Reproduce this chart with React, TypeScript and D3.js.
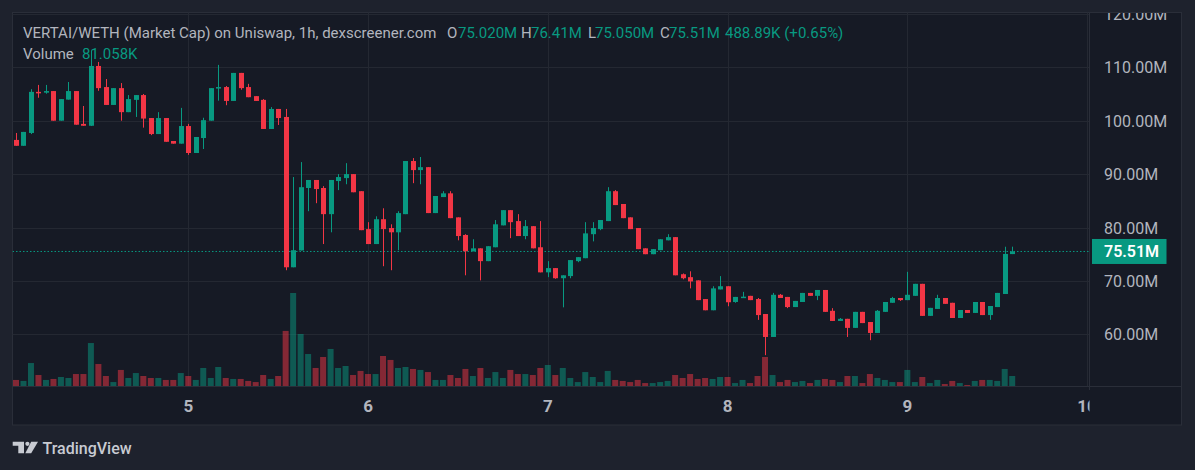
import React, { useEffect, useRef } from 'react';
import * as d3 from 'd3';

// hourly candles, VERTAI/WETH market cap in millions; first bar is day 4 01:00
const opens = [
  96.4, 95.3, 97.7, 105.4, 105.25, 105.55, 100.0, 103.95, 105.55, 99.4, 99.05, 110.25, 106.3, 102.95, 106.1, 101.6, 103.9, 104.8, 100.5, 97.5, 100.5, 96.2, 95.7, 99.0,
  93.95, 96.75, 100.0, 106.2, 106.3, 103.7, 108.95, 106.3, 104.6, 103.9, 98.45, 102.2, 100.7, 72.55, 75.7, 87.4, 88.9, 87.4, 82.5, 88.7, 89.25, 90.0, 86.8, 79.7,
  76.9, 81.55, 79.9, 79.1, 82.5, 92.45, 90.75, 91.3, 82.7, 85.7, 86.4, 81.9, 78.6, 75.55, 76.1, 73.7, 76.3, 80.4, 83.25, 81.2, 78.4, 80.25, 76.3, 71.6,
  72.4, 70.5, 70.9, 73.7, 74.25, 78.75, 79.7, 81.2, 86.8, 84.4, 81.9, 79.9, 76.1, 75.0, 75.75, 77.6, 78.2, 71.25, 70.7, 70.1, 66.6, 64.5, 68.4, 69.0,
  66.05, 66.9, 67.2, 66.6, 63.8, 59.5, 67.4, 67.0, 65.1, 66.05, 67.75, 67.2, 68.3, 64.4, 62.5, 62.9, 61.2, 64.2, 62.3, 60.25, 64.2, 65.9, 66.8, 66.4,
  67.2, 69.45, 63.45, 64.75, 66.8, 65.9, 63.05, 64.55, 64.0, 66.05, 63.6, 65.1, 67.55, 75.02,
];
const highs = [
  97.7, 97.9, 105.9, 106.7, 106.7, 105.55, 104.05, 107.25, 105.55, 102.75, 113.2, 111.0, 107.8, 106.1, 107.05, 104.8, 104.8, 105.0, 100.5, 101.6, 100.5, 96.2, 102.4, 99.4,
  96.95, 100.55, 106.1, 110.45, 106.5, 108.95, 108.95, 106.9, 104.6, 104.05, 102.55, 102.2, 102.2, 89.45, 92.25, 88.9, 88.9, 87.75, 88.9, 90.0, 92.05, 90.0, 86.8, 81.0,
  82.1, 83.6, 80.6, 83.05, 92.45, 93.0, 93.2, 91.3, 85.9, 86.8, 86.8, 81.9, 78.75, 77.8, 76.1, 76.5, 81.4, 83.25, 83.25, 82.5, 81.4, 80.25, 81.2, 73.7,
  72.4, 71.05, 73.9, 74.45, 81.0, 81.0, 81.4, 87.55, 87.0, 84.4, 81.9, 79.9, 76.1, 75.95, 77.8, 78.75, 78.2, 71.4, 71.8, 70.1, 66.6, 69.0, 70.9, 69.0,
  67.0, 67.95, 67.2, 66.8, 63.8, 67.75, 67.55, 67.0, 66.25, 67.75, 67.75, 68.3, 68.3, 64.9, 63.05, 62.9, 64.2, 64.2, 62.3, 64.55, 66.05, 67.0, 66.8, 71.7,
  69.45, 69.45, 64.95, 67.4, 66.8, 65.9, 64.55, 64.55, 66.05, 66.05, 65.3, 67.75, 76.4, 76.41,
];
const lows = [
  95.3, 95.3, 97.5, 104.3, 105.05, 100.0, 100.0, 103.95, 99.25, 99.05, 99.0, 105.6, 102.95, 102.95, 100.0, 101.6, 100.7, 98.7, 97.3, 97.5, 96.05, 95.7, 95.7, 93.6,
  93.95, 94.7, 100.0, 103.75, 102.9, 103.7, 105.8, 104.4, 103.7, 98.45, 98.45, 99.2, 72.0, 72.55, 75.7, 83.05, 84.55, 76.9, 79.1, 87.0, 88.1, 86.6, 79.5, 76.9,
  76.9, 72.75, 72.0, 75.75, 82.5, 88.3, 88.1, 82.7, 82.7, 85.7, 81.75, 77.6, 71.05, 75.55, 70.1, 73.7, 76.3, 80.4, 78.0, 78.4, 77.8, 76.1, 71.6, 70.7,
  70.4, 65.05, 70.5, 73.5, 74.25, 77.4, 79.5, 81.2, 84.2, 81.75, 79.7, 75.95, 75.0, 75.0, 75.75, 77.6, 71.05, 70.3, 68.6, 66.4, 64.5, 64.5, 68.4, 65.25,
  65.9, 66.8, 66.4, 62.7, 56.1, 59.5, 66.8, 64.9, 65.1, 66.05, 67.2, 66.4, 64.2, 62.5, 62.5, 59.5, 61.2, 62.1, 58.9, 60.25, 64.2, 65.9, 66.25, 66.4,
  67.2, 63.45, 63.45, 64.75, 65.7, 63.05, 63.05, 64.0, 64.0, 63.6, 62.7, 65.1, 67.55, 75.02,
];
const closes = [
  95.3, 97.9, 105.4, 105.25, 105.55, 100.0, 104.05, 105.55, 99.25, 99.05, 110.25, 106.1, 102.95, 106.1, 101.6, 104.05, 104.8, 100.4, 97.5, 100.5, 96.05, 95.7, 99.0, 93.95,
  96.95, 100.1, 106.1, 106.3, 103.7, 108.95, 106.1, 104.4, 103.7, 98.45, 102.2, 100.5, 72.55, 75.75, 87.55, 88.9, 87.2, 82.5, 88.9, 89.45, 90.0, 86.6, 79.5, 76.9,
  81.55, 79.7, 79.1, 82.7, 92.45, 90.75, 91.3, 82.7, 85.9, 86.4, 81.75, 78.4, 75.55, 76.1, 73.7, 76.5, 80.6, 83.25, 81.0, 78.4, 80.25, 76.1, 71.6, 72.4,
  70.5, 71.05, 73.9, 74.45, 78.9, 79.9, 81.4, 86.8, 84.2, 81.75, 79.7, 75.95, 75.0, 75.95, 77.8, 78.2, 71.05, 70.5, 69.9, 66.4, 64.5, 68.6, 69.0, 66.0,
  67.0, 67.05, 66.4, 63.6, 59.5, 67.4, 66.8, 65.1, 66.25, 67.75, 67.2, 68.3, 64.2, 62.5, 62.9, 61.2, 64.2, 62.1, 60.25, 64.4, 66.05, 66.8, 66.4, 67.4,
  69.45, 63.45, 64.95, 66.8, 65.7, 63.05, 64.55, 64.0, 66.05, 63.6, 65.3, 67.75, 75.05, 75.51,
];
// volume in K
const volumes = [
  49, 41, 186, 89, 49, 57, 73, 65, 97, 97, 348, 178, 81, 32, 130, 65, 105, 81, 65, 65, 49, 49, 105, 81,
  49, 146, 65, 154, 65, 57, 57, 41, 32, 89, 57, 81, 446, 753, 421, 259, 146, 235, 300, 146, 162, 89, 122, 97,
  97, 243, 211, 146, 154, 138, 130, 113, 49, 49, 89, 65, 138, 81, 146, 65, 113, 65, 130, 97, 97, 89, 146, 170,
  89, 146, 65, 32, 113, 73, 32, 122, 49, 41, 32, 49, 24, 24, 32, 41, 89, 65, 97, 57, 65, 57, 73, 73,
  24, 49, 24, 81, 235, 89, 32, 49, 32, 41, 24, 49, 57, 49, 32, 81, 81, 24, 97, 65, 49, 32, 32, 130,
  32, 73, 24, 49, 16, 41, 24, 8, 41, 49, 49, 41, 138, 81.058,
];

const dayLabels = ['5', '6', '7', '8', '9', '10'];
const dayStartHours = [24, 48, 72, 96, 120, 144];
const priceTicks = [60, 70, 80, 90, 100, 110, 120];
const lastPrice = 75.51;

const headerParts = [
  { text: 'VERTAI/WETH (Market Cap) on Uniswap, 1h, dexscreener.com', x: 23, up: false },
  { text: 'O', x: 447, up: false },
  { text: '75.020M', x: 458, up: true },
  { text: 'H', x: 521, up: false },
  { text: '76.41M', x: 531, up: true },
  { text: 'L', x: 588, up: false },
  { text: '75.050M', x: 595, up: true },
  { text: 'C', x: 660, up: false },
  { text: '75.51M', x: 669, up: true },
  { text: '488.89K (+0.65%)', x: 725, up: true },
];

const UP = '#089981';
const DOWN = '#f23645';
const FONT = 'Roboto, "Noto Sans", sans-serif';

const CandleChart = () => {
  const ref = useRef(null);

  useEffect(() => {
    const width = 1195;
    const height = 470;
    const panel = { left: 12.5, top: 12.5, right: 1181.5, bottom: 425 };
    const plotRight = 1089.5;
    const axisY = 386;

    const root = d3.select(ref.current);
    root.selectAll('*').remove();
    const svg = root.append('svg')
      .attr('width', width)
      .attr('height', height)
      .style('display', 'block');

    const data = opens.map((o, i) => ({
      hour: i + 1,
      open: o,
      high: highs[i],
      low: lows[i],
      close: closes[i],
      volume: volumes[i],
    }));

    const x = d3.scaleLinear().domain([1, 144]).range([16.0, 1087.1]);
    const y = d3.scaleLinear().domain([60, 110]).range([334.3, 67.3]);
    const yVol = d3.scaleLinear().domain([0, 753]).range([axisY, axisY - 93]);

    svg.append('rect').attr('width', width).attr('height', height).attr('fill', '#1e222d');
    svg.append('rect')
      .attr('x', panel.left).attr('y', panel.top)
      .attr('width', panel.right - panel.left).attr('height', panel.bottom - panel.top)
      .attr('fill', '#161a25').attr('stroke', '#2a2e39');

    const defs = svg.append('defs');
    defs.append('clipPath').attr('id', 'plot-clip').append('rect')
      .attr('x', panel.left).attr('y', panel.top).attr('width', plotRight - panel.left).attr('height', axisY - panel.top);
    defs.append('clipPath').attr('id', 'price-clip').append('rect')
      .attr('x', plotRight).attr('y', panel.top + 0.5).attr('width', panel.right - plotRight).attr('height', axisY - panel.top);
    defs.append('clipPath').attr('id', 'time-clip').append('rect')
      .attr('x', panel.left).attr('y', axisY).attr('width', plotRight - panel.left).attr('height', panel.bottom - axisY);

    const plot = svg.append('g').attr('clip-path', 'url(#plot-clip)');

    // grid
    plot.selectAll('.hgrid').data(priceTicks).enter().append('line')
      .attr('x1', panel.left).attr('x2', plotRight)
      .attr('y1', (d) => Math.round(y(d)) + 0.5).attr('y2', (d) => Math.round(y(d)) + 0.5)
      .attr('stroke', '#242832');
    plot.selectAll('.vgrid').data(dayStartHours).enter().append('line')
      .attr('x1', (d) => Math.round(x(d)) + 0.5).attr('x2', (d) => Math.round(x(d)) + 0.5)
      .attr('y1', panel.top).attr('y2', axisY)
      .attr('stroke', '#242832');

    // volume
    plot.selectAll('.vol').data(data).enter().append('rect')
      .attr('x', (d) => x(d.hour) - 3)
      .attr('y', (d) => yVol(d.volume))
      .attr('width', 6)
      .attr('height', (d) => axisY - yVol(d.volume))
      .attr('fill', (d) => (d.close >= d.open ? UP : DOWN))
      .attr('fill-opacity', 0.5);

    // last price line
    plot.append('line')
      .attr('x1', panel.left).attr('x2', plotRight)
      .attr('y1', y(lastPrice)).attr('y2', y(lastPrice))
      .attr('stroke', UP).attr('stroke-dasharray', '1.5,2');

    // candles
    const candles = plot.selectAll('.candle').data(data).enter().append('g');
    candles.append('line')
      .attr('x1', (d) => Math.round(x(d.hour)) + 0.5).attr('x2', (d) => Math.round(x(d.hour)) + 0.5)
      .attr('y1', (d) => y(d.high)).attr('y2', (d) => y(d.low))
      .attr('stroke', (d) => (d.close >= d.open ? UP : DOWN));
    candles.append('rect')
      .attr('x', (d) => Math.round(x(d.hour)) - 2)
      .attr('y', (d) => y(Math.max(d.open, d.close)))
      .attr('width', 5)
      .attr('height', (d) => Math.max(1.5, Math.abs(y(d.open) - y(d.close))))
      .attr('fill', (d) => (d.close >= d.open ? UP : DOWN));

    // axis borders
    svg.append('line').attr('x1', panel.left).attr('x2', panel.right).attr('y1', axisY + 0.5).attr('y2', axisY + 0.5).attr('stroke', '#2a2e39');
    svg.append('line').attr('x1', plotRight).attr('x2', plotRight).attr('y1', panel.top).attr('y2', axisY + 4).attr('stroke', '#2a2e39');

    // price axis
    const priceAxis = svg.append('g').attr('clip-path', 'url(#price-clip)');
    priceAxis.selectAll('.plabel').data(priceTicks).enter().append('text')
      .attr('x', 1104).attr('y', (d) => y(d) + 6)
      .style('font-family', FONT).style('font-size', '16px')
      .style('fill', '#b2b5be')
      .text((d) => `${d.toFixed(2)}M`);
    priceAxis.append('rect')
      .attr('x', 1092).attr('y', y(lastPrice) - 12.5).attr('width', 74.5).attr('height', 25)
      .attr('fill', UP);
    priceAxis.append('text')
      .attr('x', 1104).attr('y', y(lastPrice) + 6)
      .style('font-family', FONT).style('font-size', '16px').style('font-weight', 600)
      .style('fill', '#ffffff')
      .text(`${lastPrice.toFixed(2)}M`);

    // time axis
    svg.append('g').attr('clip-path', 'url(#time-clip)')
      .selectAll('.tlabel').data(dayLabels).enter().append('text')
      .attr('x', (d, i) => x(dayStartHours[i])).attr('y', 412)
      .attr('text-anchor', 'middle')
      .style('font-family', FONT).style('font-size', '17px').style('font-weight', 700)
      .style('fill', '#b2b5be')
      .text((d) => d);

    // legend
    svg.selectAll('.head').data(headerParts).enter().append('text')
      .attr('x', (d) => d.x).attr('y', 38)
      .style('font-family', FONT).style('font-size', '15px')
      .style('fill', (d) => (d.up ? UP : '#b2b5be'))
      .text((d) => d.text);
    svg.append('text').attr('x', 23).attr('y', 59)
      .style('font-family', FONT).style('font-size', '15px').style('fill', '#b2b5be')
      .text('Volume');
    svg.append('text').attr('x', 82).attr('y', 59)
      .style('font-family', FONT).style('font-size', '15px').style('fill', UP)
      .text(`${volumes[volumes.length - 1].toFixed(3)}K`);

    // TradingView mark
    const logo = svg.append('g').attr('fill', '#c8cbd2');
    logo.append('path').attr('d', 'M12.7,441.7 H24 V453.3 H18.3 V445.7 H12.7 Z');
    logo.append('circle').attr('cx', 27.4).attr('cy', 443.8).attr('r', 2.1);
    logo.append('path').attr('d', 'M31.2,441.7 H38 L31.2,453.3 H25.3 Z');
    svg.append('text').attr('x', 42.5).attr('y', 453.5)
      .style('font-family', FONT).style('font-size', '16px').style('font-weight', 500)
      .style('fill', '#c8cbd2')
      .text('TradingView');
  }, []);

  return <div ref={ref} style={{ width: 1195, height: 470, position: 'absolute', left: 0, top: 0 }} />;
};

export default function App() {
  return <CandleChart />;
}
